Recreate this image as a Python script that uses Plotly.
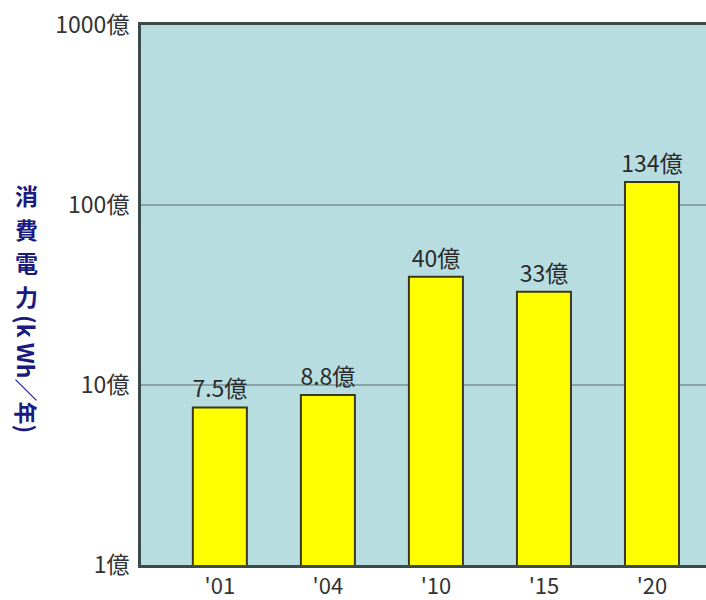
import plotly.graph_objects as go

years = ["'01", "'04", "'10", "'15", "'20"]
values = [7.5, 8.8, 40, 33, 134]
labels = ["7.5億", "8.8億", "40億", "33億", "134億"]
ytick_vals = [1, 10, 100, 1000]
ytick_text = ["1億", "10億", "100億", "1000億"]
title_chars = ["消", "費", "電", "力"]
title_unit = "(k Wh／年)"

FONT = "Noto Sans CJK JP"
TOP, BOTTOM = 25, 35
PLOT_H = 600 - TOP - BOTTOM

fig = go.Figure()
fig.add_trace(go.Bar(
    x=years, y=values, text=labels, textposition="outside",
    textfont=dict(family=FONT, size=23, color="#2a2a2a"),
    marker=dict(color="#ffff00", line=dict(color="#3a3a1a", width=2)),
    width=0.5, cliponaxis=False, constraintext="none",
))

fig.update_layout(
    width=706, height=600,
    margin=dict(l=141, r=0, t=TOP, b=BOTTOM, autoexpand=False),
    paper_bgcolor="white", plot_bgcolor="#b7dde1",
    showlegend=False,
    font=dict(family=FONT, color="#333333"),
    xaxis=dict(
        type="category", range=[-0.73, 4.5], automargin=False,
        showline=True, linecolor="#3c4a4a", linewidth=3, mirror=True,
        ticks="", tickfont=dict(size=22, color="#333333"),
        showgrid=False, ticklabelstandoff=0,
    ),
    yaxis=dict(
        type="log", range=[0, 3], automargin=False,
        tickvals=ytick_vals, ticktext=ytick_text,
        tickfont=dict(size=23, color="#333333"),
        showline=True, linecolor="#3c4a4a", linewidth=3,
        showgrid=True, gridcolor="#8aa3a6", gridwidth=1.5,
        ticks="", zeroline=False, ticklabelstandoff=4,
    ),
)

def py(ypix):
    return (600 - BOTTOM - ypix) / PLOT_H

for i, ch in enumerate(title_chars):
    fig.add_annotation(
        text=ch, xref="paper", yref="paper",
        x=-0.2018, y=py(195 + 33.5 * i), xanchor="center", yanchor="middle",
        showarrow=False,
        font=dict(family=FONT, size=23, color="#1a1a80", weight="bold"),
    )
fig.add_annotation(
    text=title_unit, xref="paper", yref="paper", textangle=90,
    x=-0.2018, y=py(374), xanchor="center", yanchor="middle", showarrow=False,
    font=dict(family=FONT, size=23, color="#1a1a80", weight="bold"),
)

fig.write_html("out.html")
